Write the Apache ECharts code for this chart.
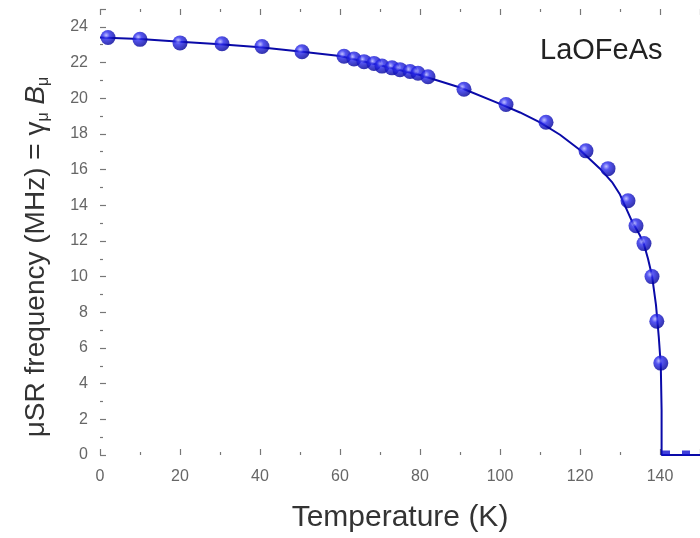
<!DOCTYPE html>
<html>
<head>
<meta charset="utf-8">
<script src="https://cdn.jsdelivr.net/npm/echarts@6/dist/echarts.min.js"></script>
<style>
  html, body { margin: 0; padding: 0; background: #ffffff; }
  #chart { width: 700px; height: 538px; }
</style>
</head>
<body>
<div id="chart"></div>
<script>
// Muon spin rotation frequency of LaOFeAs versus temperature
const tempK = [2, 10, 20, 30.5, 40.5, 50.5, 61, 63.5, 66, 68.5, 70.5, 73, 75, 77.5, 79.5, 82,
               91, 101.5, 111.5, 121.5, 127, 132, 134, 136, 138, 139.2, 140.2];
const freqMHz = [23.4, 23.3, 23.1, 23.05, 22.9, 22.6, 22.35, 22.2, 22.05, 21.95, 21.8, 21.7, 21.6, 21.5, 21.4, 21.2,
                 20.5, 19.65, 18.65, 17.05, 16.05, 14.25, 12.85, 11.85, 10.0, 7.5, 5.15];

// points above the transition (no precession)
const tempParamag = [141.5, 146.5];
const freqParamag = [0, 0];

// order-parameter fit curve
const fitT = [0, 10, 20, 30, 40, 50, 60, 70, 80, 90, 100, 105, 110, 115, 120, 125, 128, 130, 133, 135, 136, 137, 138, 139, 139.7, 140.2, 140.4, 140.4, 150];
const fitF = [23.4, 23.32, 23.16, 23.02, 22.85, 22.62, 22.36, 21.85, 21.3, 20.6, 19.68, 19.2, 18.65, 17.95, 17.1, 16.05, 15.3, 14.6, 13.1, 12.3, 11.8, 11.0, 10.05, 8.4, 6.6, 5.0, 2.5, 0, 0];

const xTicks = [0, 20, 40, 60, 80, 100, 120, 140];
const yTicks = [0, 2, 4, 6, 8, 10, 12, 14, 16, 18, 20, 22, 24];

const zip = (a, b) => a.map((v, i) => [v, b[i]]);

const blue = '#0a0aa8';
const ball = {
  type: 'radial', x: 0.38, y: 0.35, r: 0.65,
  colorStops: [
    { offset: 0, color: '#b0b0ff' },
    { offset: 0.35, color: '#2a2aee' },
    { offset: 1, color: '#00009a' }
  ]
};

const labelFont = { fontFamily: 'Liberation Sans', fontSize: 16, color: '#666' };
const tickStyle = { color: '#777', width: 1.2 };

const chart = echarts.init(document.getElementById('chart'), null, { renderer: 'canvas' });
chart.setOption({
  backgroundColor: '#ffffff',
  animation: false,
  grid: { left: 100, right: 0, top: 9, bottom: 81, containLabel: false },
  xAxis: [{
    type: 'value', min: 0, max: 150, interval: 20,
    name: 'Temperature (K)', nameLocation: 'middle', nameGap: 48,
    nameTextStyle: { fontFamily: 'Liberation Sans', fontSize: 30, color: '#333' },
    axisLine: { show: false },
    axisTick: { show: true, inside: true, length: 6, lineStyle: tickStyle },
    minorTick: { show: true, splitNumber: 2, length: 3, lineStyle: tickStyle },
    splitLine: { show: false },
    axisLabel: Object.assign({ margin: 14, showMaxLabel: false,
      formatter: v => (xTicks.indexOf(v) >= 0 ? String(v) : '') }, labelFont)
  }, {
    type: 'value', position: 'top', min: 0, max: 150, interval: 20,
    axisLine: { show: false },
    axisTick: { show: true, inside: true, length: 6, lineStyle: tickStyle },
    minorTick: { show: true, splitNumber: 2, length: 3, lineStyle: tickStyle },
    splitLine: { show: false },
    axisLabel: { show: false }
  }],
  yAxis: {
    type: 'value', min: 0, max: 25, interval: 2,
    name: '{t|μSR frequency (MHz) = γ}{s|μ}{t| }{b|B}{s|μ}',
    nameLocation: 'middle', nameGap: 48,
    nameTextStyle: {
      padding: [0, 50, 0, 0],
      rich: {
        t: { fontFamily: 'Liberation Sans', fontSize: 28, color: '#333' },
        b: { fontFamily: 'Liberation Sans', fontSize: 28, color: '#333', fontStyle: 'italic' },
        s: { fontFamily: 'Liberation Sans', fontSize: 16, color: '#333', verticalAlign: 'bottom', padding: [15, 0, 0, 0] }
      }
    },
    axisLine: { show: false },
    axisTick: { show: true, inside: true, length: 6, lineStyle: tickStyle },
    minorTick: { show: true, splitNumber: 2, length: 3, lineStyle: tickStyle },
    splitLine: { show: false },
    axisLabel: Object.assign({ margin: 12, showMaxLabel: false,
      formatter: v => (yTicks.indexOf(v) >= 0 ? String(v) : '') }, labelFont)
  },
  series: [{
    name: 'fit', type: 'line', data: zip(fitT, fitF),
    showSymbol: false, symbol: 'none', smooth: false, clip: false,
    lineStyle: { color: blue, width: 2 }, z: 2
  }, {
    name: 'LaOFeAs', type: 'scatter', data: zip(tempK, freqMHz),
    symbol: 'circle', symbolSize: 15,
    itemStyle: { color: ball }, z: 3
  }, {
    name: 'paramagnetic', type: 'scatter', data: zip(tempParamag, freqParamag),
    symbol: 'rect', symbolSize: [8, 5], symbolOffset: [0, -2],
    itemStyle: { color: '#1010d0' }, z: 3
  }],
  graphic: [{
    type: 'text', left: 540, top: 36,
    style: { text: 'LaOFeAs', fontFamily: 'Liberation Sans', fontSize: 29, fill: '#222' }
  }]
});
</script>
</body>
</html>
